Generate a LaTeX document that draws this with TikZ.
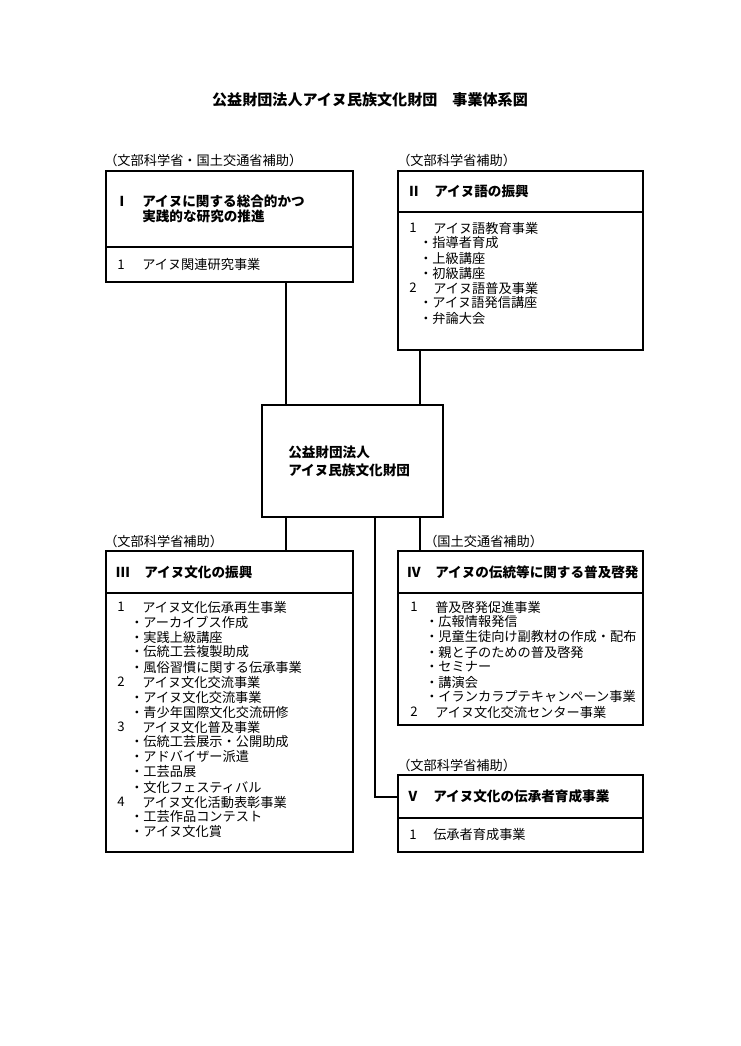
\documentclass[tikz,border=0pt]{standalone}
\usepackage{fontspec}
\setmainfont{Noto Sans CJK JP}
\begin{document}
\begin{tikzpicture}[x=0.75pt,y=-0.75pt,
  frame/.style={draw,line width=1.8pt,inner sep=0pt,outer sep=0pt},
  pb/.style n args={2}{minimum width=#1*0.75pt,minimum height=#2*0.75pt},
  conn/.style={line width=1.8pt},
  divl/.style={line width=1.6pt},
  txt/.style={anchor=west,inner sep=0pt,font=\fontsize{9.9pt}{11pt}\selectfont},
  num/.style={anchor=center,inner sep=0pt,font=\fontsize{9.9pt}{11pt}\selectfont},
  head/.style={anchor=west,inner sep=0pt,font=\fontsize{10.2pt}{12pt}\selectfont\bfseries},
  hnum/.style={anchor=center,inner sep=0pt,font=\fontsize{10.2pt}{12pt}\selectfont\bfseries},
  lab/.style={anchor=west,inner sep=0pt,font=\fontsize{9.9pt}{11pt}\selectfont},
  ttl/.style={anchor=center,inner sep=0pt,font=\fontsize{11.3pt}{13pt}\selectfont\bfseries}
]
\useasboundingbox (0,0) rectangle (740,1046);
\fill[white] (0,0) rectangle (740,1046);

% title
\node[ttl] (title) at (370,100) {公益財団法人アイヌ民族文化財団　事業体系図};

% boxes
\node[frame,pb={247}{111}] (b1) at (229.5,226.5) {};
\node[frame,pb={245}{179}] (b2) at (520.5,260.5) {};
\node[frame,pb={181}{112}] (ctr) at (352.5,461) {};
\node[frame,pb={247}{301}] (b3) at (229.5,701.5) {};
\node[frame,pb={245}{174}] (b4) at (520.5,638) {};
\node[frame,pb={245}{77}] (b5) at (520.5,813.5) {};

% dividers
\coordinate (d1) at (0,247);
\coordinate (d2) at (0,212);
\coordinate (d3) at (0,593);
\coordinate (d5) at (0,818);
\draw[divl] (b1.west |- d1) -- (b1.east |- d1);
\draw[divl] (b2.west |- d2) -- (b2.east |- d2);
\draw[divl] (b3.west |- d3) -- (b3.east |- d3);
\draw[divl] (b4.west |- d3) -- (b4.east |- d3);
\draw[divl] (b5.west |- d5) -- (b5.east |- d5);

% connectors
\coordinate (xa) at (286,0);
\coordinate (xb) at (420,0);
\coordinate (xc) at (375,0);
\coordinate (yv) at (0,797);
\draw[conn] (b1.south -| xa) -- (ctr.north -| xa);
\draw[conn] (b2.south -| xb) -- (ctr.north -| xb);
\draw[conn] (ctr.south -| xa) -- (b3.north -| xa);
\draw[conn] (ctr.south -| xb) -- (b4.north -| xb);
\draw[conn] (ctr.south -| xc) -- (xc |- yv) -- (b5.west |- yv);

% labels
\node[lab] (l1) at (104,160) {（文部科学省・国土交通省補助）};
\node[lab] (l2) at (397,160) {（文部科学省補助）};
\node[lab] (l3) at (104,541) {（文部科学省補助）};
\node[lab] (l4) at (424,541) {（国土交通省補助）};
\node[lab] (l5) at (397,765) {（文部科学省補助）};

% center text
\node[head] (c1) at (288,452) {公益財団法人};
\node[head] (c2) at (288,470) {アイヌ民族文化財団};

% Box I
\node[hnum] (h1n) at (122,201.5) {Ⅰ};
\node[head] (h1a) at (142,201.5) {アイヌに関する総合的かつ};
\node[head] (h1b) at (142,216.5) {実践的な研究の推進};
\node[num] (n1a) at (121,264.5) {1};
\node[txt] (t1a) at (142,264.5) {アイヌ関連研究事業};

% Box II
\node[hnum] (h2n) at (414,191.5) {Ⅱ};
\node[head] (h2a) at (434,191.5) {アイヌ語の振興};
\node[num] (n2a) at (413,228) {1};
\node[txt] (t2a) at (433,228) {アイヌ語教育事業};
\node[txt] (t2b) at (419,243) {・指導者育成};
\node[txt] (t2c) at (419,258) {・上級講座};
\node[txt] (t2d) at (419,273) {・初級講座};
\node[num] (n2e) at (413,288) {2};
\node[txt] (t2e) at (433,288) {アイヌ語普及事業};
\node[txt] (t2f) at (419,303) {・アイヌ語発信講座};
\node[txt] (t2g) at (419,318) {・弁論大会};

% Box III
\node[hnum] (h3n) at (123,572) {Ⅲ};
\node[head] (h3a) at (144,572) {アイヌ文化の振興};
\node[num] (n3a) at (121,607) {1};
\node[txt] (t3a) at (142,607) {アイヌ文化伝承再生事業};
\node[txt] (t3b) at (130,622) {・アーカイブス作成};
\node[txt] (t3c) at (130,637) {・実践上級講座};
\node[txt] (t3d) at (130,652) {・伝統工芸複製助成};
\node[txt] (t3e) at (130,667) {・風俗習慣に関する伝承事業};
\node[num] (n3f) at (121,682) {2};
\node[txt] (t3f) at (142,682) {アイヌ文化交流事業};
\node[txt] (t3g) at (130,697) {・アイヌ文化交流事業};
\node[txt] (t3h) at (130,712) {・青少年国際文化交流研修};
\node[num] (n3i) at (121,727) {3};
\node[txt] (t3i) at (142,727) {アイヌ文化普及事業};
\node[txt] (t3j) at (130,742) {・伝統工芸展示・公開助成};
\node[txt] (t3k) at (130,757) {・アドバイザー派遣};
\node[txt] (t3l) at (130,772) {・工芸品展};
\node[txt] (t3m) at (130,787) {・文化フェスティバル};
\node[num] (n3n) at (121,802) {4};
\node[txt] (t3n) at (142,802) {アイヌ文化活動表彰事業};
\node[txt] (t3o) at (130,817) {・工芸作品コンテスト};
\node[txt] (t3p) at (130,832) {・アイヌ文化賞};

% Box IV
\node[hnum] (h4n) at (414,572) {Ⅳ};
\node[head] (h4a) at (435,572) {アイヌの伝統等に関する普及啓発};
\node[num] (n4a) at (414,607) {1};
\node[txt] (t4a) at (435,607) {普及啓発促進事業};
\node[txt] (t4b) at (425,622) {・広報情報発信};
\node[txt] (t4c) at (425,637) {・児童生徒向け副教材の作成・配布};
\node[txt] (t4d) at (425,652) {・親と子のための普及啓発};
\node[txt] (t4e) at (425,667) {・セミナー};
\node[txt] (t4f) at (425,682) {・講演会};
\node[txt] (t4g) at (425,697) {・イランカラプテキャンペーン事業};
\node[num] (n4h) at (414,712) {2};
\node[txt] (t4h) at (435,712) {アイヌ文化交流センター事業};

% Box V
\node[hnum] (h5n) at (413,796.5) {Ⅴ};
\node[head] (h5a) at (433,796.5) {アイヌ文化の伝承者育成事業};
\node[num] (n5a) at (413,835) {1};
\node[txt] (t5a) at (433,835) {伝承者育成事業};
\end{tikzpicture}
\end{document}
